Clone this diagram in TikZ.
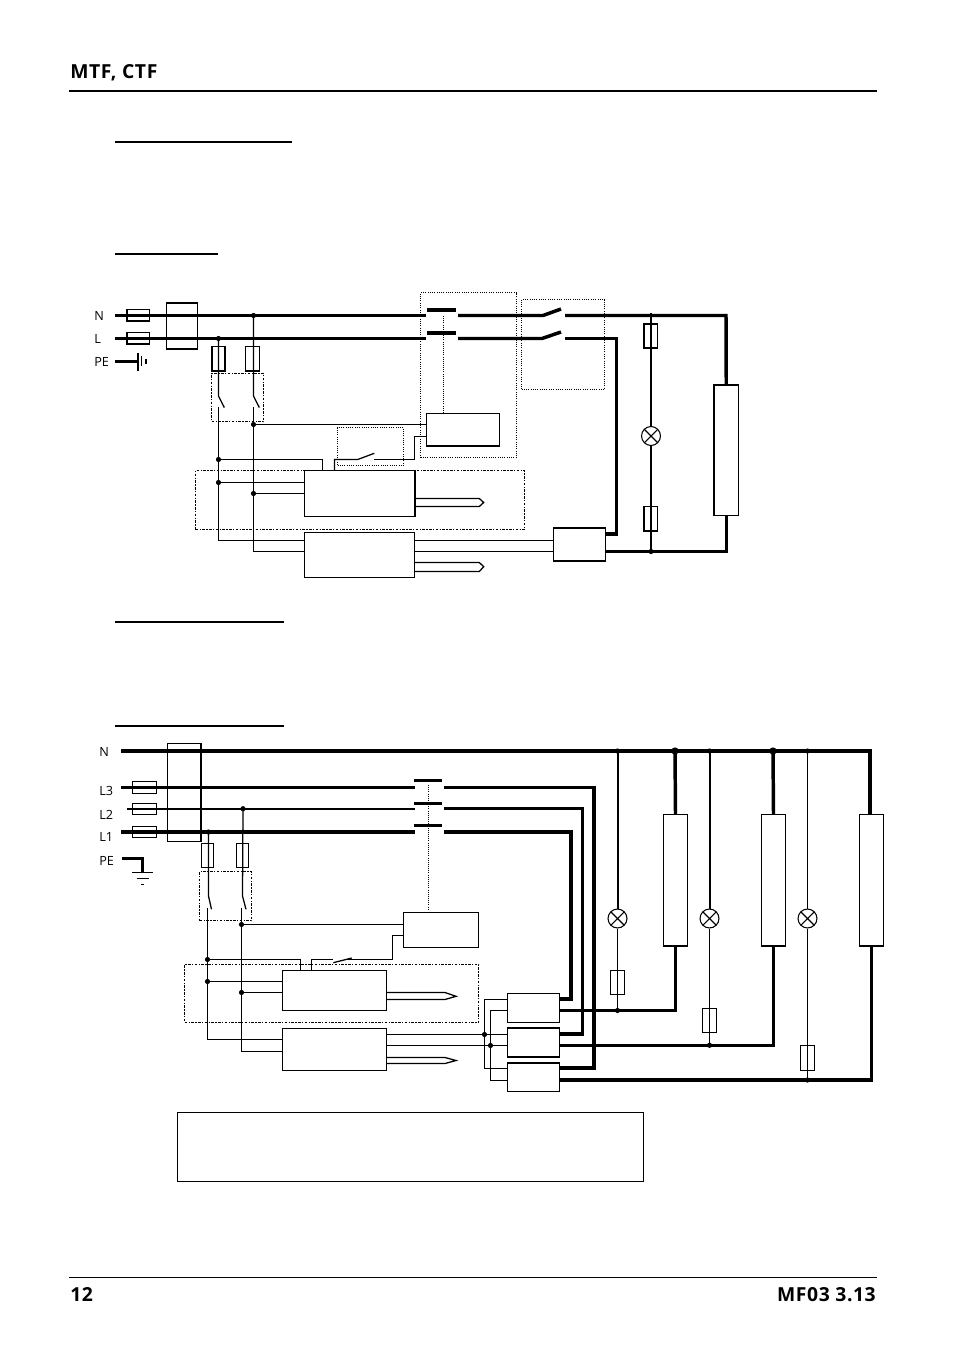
\documentclass[tikz,border=0pt]{standalone}
\usepackage{fontspec}
\setmainfont{Open Sans}
\newfontfamily\pagefont[LetterSpace=3]{Open Sans}
\usetikzlibrary{fit}
\tikzset{
  wirethin/.style={line width=0.95pt},
  wirethick/.style={line width=2.6pt},
  wiremid/.style={line width=1.5pt},
  wbox/.style={draw,line width=0.9pt,inner sep=0pt},
  fusebox/.style={draw,line width=0.9pt,inner sep=0pt},
  dotbox/.style={draw,densely dotted,line width=0.7pt,inner sep=0pt},
  dashbox/.style={draw,dash pattern=on 2pt off 1pt on 1pt off 1pt,line width=0.7pt,inner sep=0pt},
  lampn/.style={draw,circle,line width=0.8pt,inner sep=0pt,minimum size=14.2pt,
    path picture={\draw[line width=0.8pt] (path picture bounding box.north west) -- (path picture bounding box.south east)
      (path picture bounding box.north east) -- (path picture bounding box.south west);}},
  linelabel/.style={anchor=west,inner sep=0pt,font=\fontsize{9.5}{11}\selectfont},
  pagelabel/.style={inner sep=0pt,font=\fontsize{14.5}{17}\selectfont\pagefont\bfseries},
}
\begin{document}
\begin{tikzpicture}[x=0.75pt,y=-0.75pt]
  \useasboundingbox (0,0) rectangle (954,1349);
  % page head and foot
  \node[pagelabel,anchor=base west] (head) at (70,78) {MTF, CTF};
  \node[pagelabel,anchor=base west] (pagenr) at (70,1301) {12};
  \node[pagelabel,anchor=base east] (docnr) at (876,1301) {MF03 3.13};
  \draw[line width=1.5pt] (69,91) -- (877,91);
  \draw[line width=1.4pt] (69,1277.5) -- (877,1277.5);
  \draw[line width=0.9pt] (115,142) -- (292,142);
  \draw[line width=0.9pt] (115,254) -- (218,254);
  \draw[line width=0.9pt] (115,622) -- (284,622);
  \draw[line width=0.9pt] (115,726) -- (284,726);
  \node[wbox,fit={(177.5,1112.5) (643.5,1181.5)}] (notebox) {};

  % single phase
  \node[linelabel] (lN) at (94,315.5) {N};
  \node[linelabel] (lL) at (94,338.5) {L};
  \node[linelabel] (lPE) at (94,361.5) {PE};
  \node[fusebox,fit={(127,309.5) (149.5,321)}] (fN) {};
  \node[fusebox,fit={(127,332.5) (149.5,344)}] (fL) {};
  \node[wbox,line width=1.2pt,fit={(166.5,303) (197.5,349)}] (filter) {};
  \node[fusebox,fit={(212,346.5) (225,371)}] (fa) {};
  \node[fusebox,fit={(245.5,346.5) (259.5,371)}] (fb) {};
  \node[dashbox,fit={(211.5,373.5) (263.5,421.5)}] (sw1) {};
  \node[dotbox,fit={(337.5,427.5) (403.5,465.5)}] (sw2) {};
  \node[dashbox,fit={(195.5,470.5) (524.5,529.5)}] (ctl1) {};
  \node[dotbox,fit={(420.5,292.5) (516.5,457.5)}] (cont) {};
  \node[dotbox,fit={(521.5,299.5) (604.5,389.5)}] (man) {};
  \node[wbox,fit={(426.5,413.5) (499.5,446)}] (coil) {};
  \node[wbox,fit={(304.5,470.5) (415,516.5)}] (unita) {};
  \node[wbox,fit={(304.5,532.5) (414.5,577.5)}] (unitb) {};
  \node[wbox,fit={(553.5,528) (605.5,561)}] (ballast) {};
  \node[wbox,fit={(714,385) (738.5,515.5)}] (tube) {};
  \node[fusebox,fit={(644,324) (657.5,348)}] (fc) {};
  \node[fusebox,fit={(644,506.5) (657.5,531)}] (fd) {};
  \node[lampn] (lamp) at (651,436) {};
  \coordinate (ja) at (218.5,338.5);
  \coordinate (jb) at (253.5,315.5);
  \coordinate (ja1) at (218.5,459.5);
  \coordinate (ja2) at (218.5,482.5);
  \coordinate (jb1) at (253.5,424.5);
  \coordinate (jb2) at (253.5,493.5);
  \coordinate (jc) at (651,551.5);
  % mains
  \draw[wirethick] (115,315.5) -- (426,315.5);
  \draw[wirethick] (115,338.5) -- (426,338.5);
  \draw[wirethick] (427,310) -- (456,310);
  \draw[wirethick] (427,333) -- (456,333);
  \draw[densely dotted,line width=0.6pt] (443.5,316) -- (443.5,413);
  \draw[wirethick] (458,315.5) -- (543,315.5) -- (561,309);
  \draw[wirethick] (458,338.5) -- (542,338.5) -- (561,332);
  \draw[wirethick] (565,315.5) -- (726,315.5) -- (tube.north);
  \draw[wirethick] (565,338.5) -- (616.5,338.5) -- (616.5,534) -- (ballast.east |- 0,534);
  \draw[wirethick] (ballast.east |- jc) -- (jc) -| (tube.south);
  % earth
  \draw[wirethick] (115,361.5) -- (137.5,361.5);
  \draw[wiremid] (137.5,353) -- (137.5,371);
  \draw[wirethin] (141.5,356) -- (141.5,366);
  \draw[wiremid] (145.5,359) -- (145.5,364);
  % branches
  \draw[wirethin] (ja) -- (218.5,396) -- (224.3,407.5);
  \draw[wirethin] (jb) -- (253.5,396) -- (259.3,407.5);
  \draw[wirethin] (218.5,407) |- (unitb.west |- 0,540.5);
  \draw[wirethin] (253.5,407) |- (unitb.west |- 0,551.5);
  \draw[wirethin] (jb1) -- (coil.west |- jb1);
  \draw[wirethin] (ja1) -| (322.5,470.5);
  \draw[wirethin] (334.5,470.5) |- (357.7,459.5) -- (374.3,453.3);
  \draw[wirethin] (374,459.5) -| (414.5,436.5) -- (coil.west |- 0,436.5);
  \draw[wirethin] (ja2) -- (unita.west |- ja2);
  \draw[wirethin] (jb2) -- (unita.west |- jb2);
  \foreach \j in {ja,jb,ja1,ja2,jb1,jb2,jc} \fill (\j) circle (2.6);
  % probes
  \draw[wirethin] (unita.east |- 0,498.5) -- (479.3,498.5) -- (483.7,502.5) -- (479.3,506.5) -- (unita.east |- 0,506.5);
  \draw[wirethin] (unitb.east |- 0,562.5) -- (479.3,562.5) -- (483.7,566.7) -- (479.3,571.5) -- (unitb.east |- 0,571.5);
  \draw[wirethin] (unitb.east |- 0,540.5) -- (ballast.west |- 0,540.5);
  \draw[wirethin] (unitb.east |- 0,551.5) -- (ballast.west |- 0,551.5);
  % lamp branch
  \draw[wirethin] (651,313) -- (lamp.north);
  \draw[wirethin] (lamp.south) -- (651,553);

  % three phase
  \node[linelabel] (lN3) at (99,751.5) {N};
  \node[linelabel] (lL3) at (99,790.5) {L3};
  \node[linelabel] (lL2) at (99,814.5) {L2};
  \node[linelabel] (lL1) at (99,836.5) {L1};
  \node[linelabel] (lPE3) at (99,860.5) {PE};
  \node[fusebox,fit={(132.5,781.5) (156.5,793.5)}] (f3) {};
  \node[fusebox,fit={(132.5,803.5) (156.5,814.5)}] (f2) {};
  \node[fusebox,fit={(132.5,826.5) (156.5,837.5)}] (f1) {};
  \node[wbox,fit={(167.5,743.5) (201,841.5)}] (filterb) {};
  \node[fusebox,fit={(201.5,843.5) (213.5,867.5)}] (fe) {};
  \node[fusebox,fit={(236.5,843.5) (248.5,867.5)}] (ff) {};
  \node[dashbox,fit={(199.5,871.5) (251.5,920.5)}] (sw3) {};
  \node[dashbox,fit={(184.5,964.5) (478.5,1022.5)}] (ctl2) {};
  \node[wbox,fit={(403.5,912.5) (478.5,947.5)}] (coilb) {};
  \node[wbox,fit={(282.5,970.5) (386.5,1010.5)}] (unitc) {};
  \node[wbox,fit={(282.5,1028.5) (386.5,1070.5)}] (unitd) {};
  \node[wbox,fit={(507.5,993.5) (559.5,1022.5)}] (balla) {};
  \node[wbox,line width=1.2pt,fit={(507.5,1028) (559.5,1057)}] (ballb) {};
  \node[wbox,fit={(507.5,1063) (559.5,1091.5)}] (ballc) {};
  \foreach \n/\x in {a/675.5,b/773.5,c/871.5}
    \node[wbox,fit={(\x-12,814.5) (\x+12,946)}] (tube\n) {};
  \foreach \n/\x/\ya/\yb in {a/617.5/970.5/994.5,b/709.5/1008.5/1032.5,c/807.5/1045.5/1070.5}{
    \node[lampn] (lamp\n) at (\x,918.5) {};
    \node[fusebox,fit={(\x-7,\ya) (\x+7,\yb)}] (fuse\n) {};
  }
  \coordinate (jd) at (208.5,832);
  \coordinate (je) at (243,808.7);
  \coordinate (je1) at (241.5,924.5);
  \coordinate (jd1) at (207.5,959.5);
  \coordinate (jd2) at (207.5,981.5);
  \coordinate (je2) at (241.5,992.5);
  \coordinate (jf) at (484.5,1034.5);
  \coordinate (jg) at (490.5,1045.5);
  % mains
  \draw[wirethick] (121,751) -- (870,751) -- (870,814.5);
  \draw[wirethick] (121,787.5) -- (415,787.5);
  \draw[wiremid] (127,808.7) -- (415,808.7);
  \draw[wirethick] (121,832) -- (415,832);
  \foreach \y in {780.3,803.3,825.3} \draw[wirethick] (414,\y) -- (442,\y);
  \draw[densely dotted,line width=0.6pt] (428.5,785) -- (428.5,909);
  \draw[wirethick] (444,787.5) -| (594,1068) -- (ballc.east |- 0,1068);
  \draw[wirethick] (444,808.7) -| (582.3,1034) -- (ballb.east |- 0,1034);
  \draw[wirethick] (444,832) -| (571,999) -- (balla.east |- 0,999);
  % earth
  \draw[wirethick] (122,858.5) -| (142.7,872.7);
  \draw[wirethin] (132.3,872.5) -- (152.7,872.5);
  \draw[wirethin] (136.7,878.5) -- (148.7,878.5);
  \draw[wirethin] (141,884.5) -- (144,884.5);
  % branches
  \draw[wirethin] (jd) -- (208.5,896) -- (211.5,909.3);
  \draw[wirethin] (je) -- (242.5,896) -- (246,909.3);
  \draw[wirethin] (207.5,907.5) |- (unitd.west |- 0,1039.5);
  \draw[wirethin] (241.5,907.5) |- (unitd.west |- 0,1051.5);
  \draw[wirethin] (je1) -- (coilb.west |- je1);
  \draw[wirethin] (jd1) -| (300.5,970.5);
  \draw[wirethin] (311.5,970.5) |- (332.5,959.5);
  \draw[wirethin] (333.3,962.7) -- (351.7,958);
  \draw[wirethin] (345,959.5) -| (392.5,935.5) -- (coilb.west |- 0,935.5);
  \draw[wirethin] (jd2) -- (unitc.west |- jd2);
  \draw[wirethin] (je2) -- (unitc.west |- je2);
  % probes
  \draw[wirethin] (unitc.east |- 0,992.5) -- (445,992.5) -- (456,996.3) -- (445,999.5) -- (unitc.east |- 0,999.5);
  \draw[wirethin] (unitd.east |- 0,1057.5) -- (445,1057.5) -- (456,1060.5) -- (445,1063.5) -- (unitd.east |- 0,1063.5);
  \draw[wirethin] (unitd.east |- jf) -- (ballb.west |- jf);
  \draw[wirethin] (unitd.east |- jg) -- (ballb.west |- jg);
  \draw[wirethin] (balla.west |- 0,999.5) -| (jf) |- (ballc.west |- 0,1068.5);
  \draw[wirethin] (balla.west |- 0,1010.5) -| (jg) |- (ballc.west |- 0,1080.5);
  \foreach \j in {jd,je,jd1,jd2,je1,je2,jf,jg} \fill (\j) circle (2.6);
  % outputs
  \coordinate (jh) at (675,751);
  \coordinate (ji) at (773,751);
  \draw[wirethick] (jh) -- (tubea.north);
  \draw[wirethick] (ji) -- (tubeb.north);
  \fill (jh) circle (3.6);
  \fill (ji) circle (3.6);
  \draw[wirethick] (balla.east |- 0,1010.5) -| (tubea.south);
  \draw[wirethick] (ballb.east |- 0,1045.3) -| (tubeb.south);
  \draw[wirethick] (ballc.east |- 0,1080) -| (tubec.south);
  % lamp branches
  \foreach \n/\x/\w/\y in {a/617.5/wiremid/1010.5,b/709.5/wiremid/1045.3,c/807.5/wirethin/1080}{
    \coordinate (jt\n) at (\x,751);
    \coordinate (jb\n) at (\x,\y);
    \draw[\w] (jt\n) -- (lamp\n.north);
    \draw[wirethin] (lamp\n.south) -- (jb\n);
    \fill (jt\n) circle (2.6);
    \fill (jb\n) circle (2.6);
  }
\end{tikzpicture}
\end{document}
